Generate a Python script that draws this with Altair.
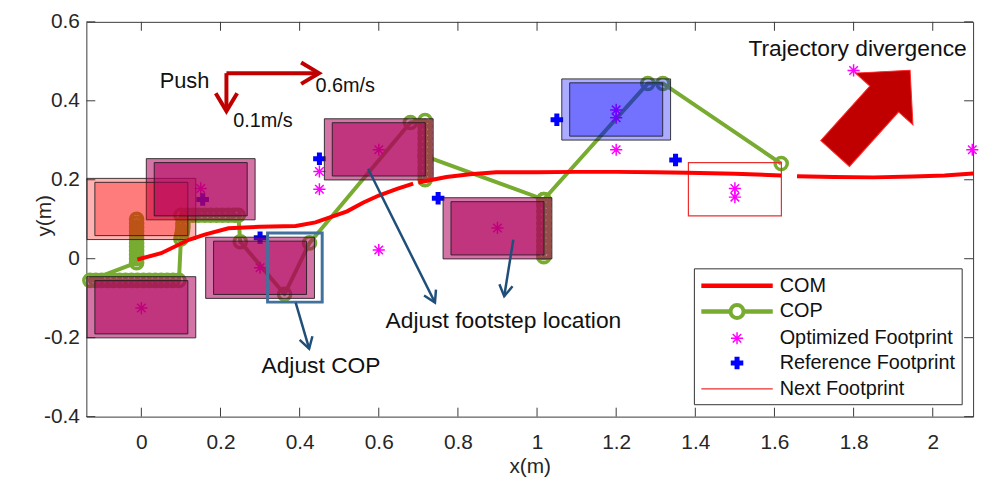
import math
import altair as alt
import pandas as pd

# ---------------- values ----------------
x_ticks = [0, 0.2, 0.4, 0.6, 0.8, 1, 1.2, 1.4, 1.6, 1.8, 2]
y_ticks = [-0.4, -0.2, 0, 0.2, 0.4, 0.6]
X_DOMAIN = [-0.139, 2.102]
Y_DOMAIN = [-0.4, 0.6]

# COM trajectory (three drawn pieces)
com_x = [-0.01, 0.05, 0.12, 0.16, 0.22, 0.30, 0.39, 0.44, 0.48, 0.52, 0.56, 0.60, 0.646, 0.687,
         0.70, 0.771, 0.83, 0.897, 1.0, 1.097, 1.2, 1.3, 1.38, 1.5, 1.617,
         1.657, 1.75, 1.85, 1.95, 2.03, 2.102]
com_y = [-0.002, 0.014, 0.048, 0.061, 0.077, 0.081, 0.083, 0.092, 0.106, 0.12, 0.142, 0.16, 0.177, 0.19,
         0.193, 0.207, 0.214, 0.219, 0.219, 0.220, 0.220, 0.219, 0.218, 0.215, 0.211,
         0.209, 0.207, 0.206, 0.208, 0.211, 0.216]
com_seg = [1, 1, 1, 1, 1, 1, 1, 1, 1, 1, 1, 1, 1, 1,
           2, 2, 2, 2, 2, 2, 2, 2, 2, 2, 2,
           3, 3, 3, 3, 3, 3]

# COP trajectory (every sample carries a circle)
cop_x = [-0.012, -0.012, -0.012, -0.012, -0.012, -0.012, -0.012, -0.012, -0.012, -0.012, -0.012, -0.012,
         -0.130, -0.115, -0.100, -0.085, -0.070, -0.055, -0.040, -0.025, -0.010, 0.005, 0.020, 0.035,
         0.050, 0.065, 0.080, 0.095,
         0.100, 0.102, 0.104, 0.105, 0.105,
         0.100, 0.115, 0.130, 0.145, 0.160, 0.175, 0.190, 0.205, 0.220, 0.235, 0.245,
         0.250, 0.362, 0.425, 0.680, 0.717,
         0.717, 0.717, 0.717, 0.717, 0.717, 0.717, 0.717, 0.717, 0.717, 0.717, 0.717,
         1.017, 1.017, 1.017, 1.017, 1.017, 1.017, 1.017, 1.017, 1.017, 1.017, 1.017, 1.017,
         1.280, 1.318, 1.617]
cop_y = [0.100, 0.090, 0.080, 0.070, 0.060, 0.050, 0.040, 0.030, 0.020, 0.010, 0.000, -0.010,
         -0.055, -0.055, -0.055, -0.055, -0.055, -0.055, -0.055, -0.055, -0.055, -0.055, -0.055, -0.055,
         -0.055, -0.055, -0.055, -0.055,
         0.050, 0.060, 0.070, 0.080, 0.090,
         0.110, 0.110, 0.110, 0.110, 0.110, 0.110, 0.110, 0.110, 0.110, 0.110, 0.110,
         0.043, -0.090, 0.040, 0.345, 0.350,
         0.335, 0.320, 0.305, 0.290, 0.275, 0.260, 0.245, 0.230, 0.215, 0.200, 0.260,
         0.150, 0.135, 0.120, 0.105, 0.090, 0.075, 0.060, 0.045, 0.030, 0.015, 0.005, 0.150,
         0.444, 0.444, 0.241]

opt_x = [0.0, 0.15, 0.30, 0.45, 0.45, 0.60, 0.60, 0.90, 1.20, 1.20, 1.20, 1.50, 1.50, 1.80, 2.10]
opt_y = [-0.125, 0.178, -0.023, 0.221, 0.176, 0.276, 0.022, 0.078, 0.377, 0.357, 0.276, 0.178, 0.156, 0.477, 0.276]

ref_x = [0.155, 0.30, 0.45, 0.75, 1.05, 1.35]
ref_y = [0.150, 0.053, 0.253, 0.153, 0.352, 0.250]

foot_cx = [0.0, 0.15, 0.0, 0.30, 0.60, 0.90, 1.20]
foot_cy = [0.126, 0.176, -0.123, -0.023, 0.277, 0.077, 0.378]
foot_kind = ["start", "step", "step", "step", "step", "step", "current"]
foot_inner_w, foot_inner_h = 0.235, 0.135
foot_outer_w, foot_outer_h = 0.275, 0.155

next_cx = [1.50]
next_cy = [0.176]

# annotations
push_x0, push_y0 = [0.215], [0.470]
push_x1, push_y1 = [0.449, 0.215], [0.470, 0.374]
blue_ax0 = [0.573, 0.940, 0.390]
blue_ay0 = [0.228, 0.048, -0.111]
blue_ax1 = [0.742, 0.917, 0.424]
blue_ay1 = [-0.111, -0.095, -0.228]
cop_box = [0.319, 0.457, 0.065, -0.110]
big_arrow_x, big_arrow_y, big_arrow_angle = [1.848], [0.372], [312]

# ---------------- styling ----------------
W, H = 894, 398
FONT = "Liberation Sans"
AX = "#3a3a3a"
GREEN = "#77ac30"
RED = "#ff0000"
MAG = "#ff00ff"
BLUE = "#0000ff"
DARKRED = "#c00000"
NAVY = "#1f4e79"

xs = alt.Scale(domain=X_DOMAIN, nice=False, zero=False)
ys = alt.Scale(domain=Y_DOMAIN, nice=False, zero=False)

LBL = "datum.value < 0 ? '-' + format(-datum.value, '~g') : format(datum.value, '~g')"
x_axis = alt.Axis(values=x_ticks, labelExpr=LBL, ticks=False, tickSize=0, domain=False, grid=False,
                  labelFont=FONT, labelFontSize=21, labelColor="#262626", labelPadding=15,
                  title="x(m)", titleFont=FONT, titleFontSize=21, titleFontWeight="normal",
                  titleColor="#262626", titleBaseline="middle", titleX=W / 2, titleY=50)
y_axis = alt.Axis(values=y_ticks, labelExpr=LBL, ticks=False, tickSize=0, domain=False, grid=False,
                  labelFont=FONT, labelFontSize=21, labelColor="#262626", labelPadding=7,
                  title="y(m)", titleFont=FONT, titleFontSize=21, titleFontWeight="normal",
                  titleColor="#262626", titleX=-32, titleY=195, titleAngle=270, titleBaseline="bottom")


def X(f):
    return alt.X(f, type="quantitative", scale=xs, axis=x_axis)


def Y(f):
    return alt.Y(f, type="quantitative", scale=ys, axis=y_axis)


STAR = "M0,-1L0,1M-1,0L1,0M-0.7,-0.7L0.7,0.7M-0.7,0.7L0.7,-0.7"
CHEVRON = "M-1,-0.6L0,0L-1,0.6"
BLOCK = "M-1,-0.345L0.31,-0.345L0.31,-0.69L1,0L0.31,0.69L0.31,0.345L-1,0.345Z"

one = pd.DataFrame({"k": [0]})

# ---------------- data frames ----------------
df_com = pd.DataFrame({"x": com_x, "y": com_y, "seg": com_seg})
df_cop = pd.DataFrame({"x": cop_x, "y": cop_y, "i": list(range(len(cop_x)))})
df_opt = pd.DataFrame({"x": opt_x, "y": opt_y})
df_ref = pd.DataFrame({"x": ref_x, "y": ref_y})

fill_map = {"start": "#ff0000", "step": "#b0005c", "current": "#0000ff"}
op_map = {"start": 0.3, "step": 0.55, "current": 0.33}
df_feet = pd.DataFrame({"cx": foot_cx, "cy": foot_cy, "kind": foot_kind})
df_feet["col"] = df_feet["kind"].map(fill_map)
df_feet["op"] = df_feet["kind"].map(op_map)
df_outer = df_feet.assign(x1=df_feet.cx - foot_outer_w / 2, x2=df_feet.cx + foot_outer_w / 2,
                          y1=df_feet.cy - foot_outer_h / 2, y2=df_feet.cy + foot_outer_h / 2)
df_inner = df_feet.assign(x1=df_feet.cx - foot_inner_w / 2, x2=df_feet.cx + foot_inner_w / 2,
                          y1=df_feet.cy - foot_inner_h / 2, y2=df_feet.cy + foot_inner_h / 2)
df_next = pd.DataFrame({"x1": [c - foot_inner_w / 2 for c in next_cx], "x2": [c + foot_inner_w / 2 for c in next_cx],
                        "y1": [c - foot_inner_h / 2 for c in next_cy], "y2": [c + foot_inner_h / 2 for c in next_cy]})

# ---------------- inner ticks (MATLAB style) ----------------
df_xt = pd.DataFrame({"v": x_ticks})
df_yt = pd.DataFrame({"v": y_ticks})
tick_b = alt.Chart(df_xt).mark_rule(color=AX, strokeWidth=1).encode(
    x=X("v"), y=alt.value(H), y2=alt.value(H - 9))
tick_t = alt.Chart(df_xt).mark_rule(color=AX, strokeWidth=1).encode(
    x=X("v"), y=alt.value(0), y2=alt.value(9))
tick_l = alt.Chart(df_yt).mark_rule(color=AX, strokeWidth=1).encode(
    y=Y("v"), x=alt.value(0), x2=alt.value(9))
tick_r = alt.Chart(df_yt).mark_rule(color=AX, strokeWidth=1).encode(
    y=Y("v"), x=alt.value(W), x2=alt.value(W - 9))

# ---------------- data layers ----------------
cop_line = alt.Chart(df_cop).mark_line(color=GREEN, strokeWidth=4, strokeJoin="round").encode(
    x=X("x"), y=Y("y"), order="i:Q")
cop_pts = alt.Chart(df_cop).mark_point(shape="circle", filled=False, color=GREEN, size=150,
                                       strokeWidth=3.5, opacity=1).encode(x=X("x"), y=Y("y"))
opt_pts = alt.Chart(df_opt).mark_point(shape=STAR, filled=False, color=MAG, size=150,
                                       strokeWidth=1.5, opacity=1).encode(x=X("x"), y=Y("y"))
ref_pts = alt.Chart(df_ref).mark_point(shape="cross", filled=True, color=BLUE, size=160,
                                       opacity=1).encode(x=X("x"), y=Y("y"))

outer = alt.Chart(df_outer).mark_rect(stroke="#1a1a1a", strokeWidth=1, strokeOpacity=0.85).encode(
    x=X("x1"), x2="x2", y=Y("y1"), y2="y2",
    fill=alt.Fill("col:N", scale=None), fillOpacity=alt.FillOpacity("op:Q", scale=None))
inner = alt.Chart(df_inner).mark_rect(stroke="#1a1a1a", strokeWidth=1, strokeOpacity=0.85).encode(
    x=X("x1"), x2="x2", y=Y("y1"), y2="y2",
    fill=alt.Fill("col:N", scale=None), fillOpacity=alt.FillOpacity("op:Q", scale=None))
nxt = alt.Chart(df_next).mark_rect(filled=False, stroke="#e8302f", strokeWidth=1.2).encode(
    x=X("x1"), x2="x2", y=Y("y1"), y2="y2")

com_line = alt.Chart(df_com).mark_line(color=RED, strokeWidth=4).encode(
    x=X("x"), y=Y("y"), detail="seg:N", order="x:Q")

# ---------------- annotations ----------------
df_push = pd.DataFrame({"x": push_x0 * 2, "y": push_y0 * 2, "x2": push_x1, "y2": push_y1,
                        "ang": [0, 90]})
push_lines = alt.Chart(df_push).mark_rule(color=DARKRED, strokeWidth=4).encode(
    x=X("x"), y=Y("y"), x2="x2", y2="y2")
push_heads = alt.Chart(df_push).mark_point(shape=CHEVRON, filled=False, color=DARKRED, size=1300,
                                           strokeWidth=4, opacity=1).encode(
    x=X("x2"), y=Y("y2"), angle=alt.Angle("ang:Q", scale=None))

blue_ang = [math.degrees(math.atan2(-(b - a), (d - c))) % 360
            for a, b, c, d in zip(blue_ay0, blue_ay1, blue_ax0, blue_ax1)]
df_blue = pd.DataFrame({"x": blue_ax0, "y": blue_ay0, "x2": blue_ax1, "y2": blue_ay1, "ang": blue_ang})
blue_lines = alt.Chart(df_blue).mark_rule(color=NAVY, strokeWidth=2.5).encode(
    x=X("x"), y=Y("y"), x2="x2", y2="y2")
blue_heads = alt.Chart(df_blue).mark_point(shape=CHEVRON, filled=False, color=NAVY, size=500,
                                           strokeWidth=2.5, opacity=1).encode(
    x=X("x2"), y=Y("y2"), angle=alt.Angle("ang:Q", scale=None))

df_box = pd.DataFrame({"x1": [cop_box[0]], "x2": [cop_box[1]], "y1": [cop_box[2]], "y2": [cop_box[3]]})
box = alt.Chart(df_box).mark_rect(filled=False, stroke="#41719c", strokeWidth=3).encode(
    x=X("x1"), x2="x2", y=Y("y1"), y2="y2")

df_big = pd.DataFrame({"x": big_arrow_x, "y": big_arrow_y, "ang": big_arrow_angle})
big = alt.Chart(df_big).mark_point(shape=BLOCK, filled=True, fill=DARKRED, stroke="#ff2a2a",
                                   strokeWidth=1, size=12769, opacity=1).encode(
    x=X("x"), y=Y("y"), angle=alt.Angle("ang:Q", scale=None))

txt = pd.DataFrame({
    "t": ["Push", "0.6m/s", "0.1m/s", "Trajectory divergence", "Adjust footstep location", "Adjust COP"],
    "x": [0.109, 0.440, 0.232, 1.810, 0.915, 0.454],
    "y": [0.449, 0.437, 0.349, 0.530, -0.158, -0.271],
    "al": ["center", "left", "left", "center", "center", "center"],
    "fs": [22, 20, 20, 23, 23, 23],
})
texts = []
for _, r in txt.iterrows():
    texts.append(alt.Chart(pd.DataFrame([r])).mark_text(
        font=FONT, fontSize=int(r["fs"]), color="#111111", align=r["al"], baseline="middle").encode(
        x=X("x"), y=Y("y"), text="t:N"))

# ---------------- legend ----------------
LX0, LX1, LY0, LY1 = 613, 883, 249, 386
leg_rows = [266, 292, 319, 344, 370]
leg_labels = ["COM", "COP", "Optimized Footprint", "Reference Footprint", "Next Footprint"]
leg = [alt.Chart(one).mark_rect(fill="white", stroke="#333333", strokeWidth=1).encode(
    x=alt.value(LX0), x2=alt.value(LX1), y=alt.value(LY0), y2=alt.value(LY1))]
leg.append(alt.Chart(one).mark_rule(color=RED, strokeWidth=4.5).encode(
    x=alt.value(620), x2=alt.value(692), y=alt.value(leg_rows[0])))
leg.append(alt.Chart(one).mark_rule(color=GREEN, strokeWidth=4.5).encode(
    x=alt.value(620), x2=alt.value(692), y=alt.value(leg_rows[1])))
leg.append(alt.Chart(one).mark_point(shape="circle", filled=True, fill="white", stroke=GREEN,
                                     strokeWidth=4, size=170, opacity=1).encode(
    x=alt.value(656), y=alt.value(leg_rows[1])))
leg.append(alt.Chart(one).mark_point(shape=STAR, filled=False, color=MAG, size=150, strokeWidth=1.5,
                                     opacity=1).encode(x=alt.value(656), y=alt.value(leg_rows[2])))
leg.append(alt.Chart(one).mark_point(shape="cross", filled=True, color=BLUE, size=160, opacity=1).encode(
    x=alt.value(656), y=alt.value(leg_rows[3])))
leg.append(alt.Chart(one).mark_rule(color="#e8302f", strokeWidth=1.2).encode(
    x=alt.value(620), x2=alt.value(692), y=alt.value(leg_rows[4])))
for lab, yy in zip(leg_labels, leg_rows):
    leg.append(alt.Chart(pd.DataFrame({"t": [lab]})).mark_text(
        font=FONT, fontSize=20, color="#111111", align="left", baseline="middle").encode(
        x=alt.value(699), y=alt.value(yy), text="t:N"))

chart = alt.layer(
    tick_b, tick_l,
    cop_line, cop_pts, opt_pts, ref_pts, outer, inner, nxt, com_line,
    box, blue_lines, blue_heads, push_lines, push_heads, big, *texts,
    tick_t, tick_r, *leg,
).properties(
    width=W, height=H,
    autosize=alt.AutoSizeParams(type="none"),
    padding={"left": 79, "top": 12, "right": 12, "bottom": 70},
).configure_view(stroke=AX, strokeWidth=1)

chart.save("out.html", embed_options={"renderer": "svg", "actions": False})
